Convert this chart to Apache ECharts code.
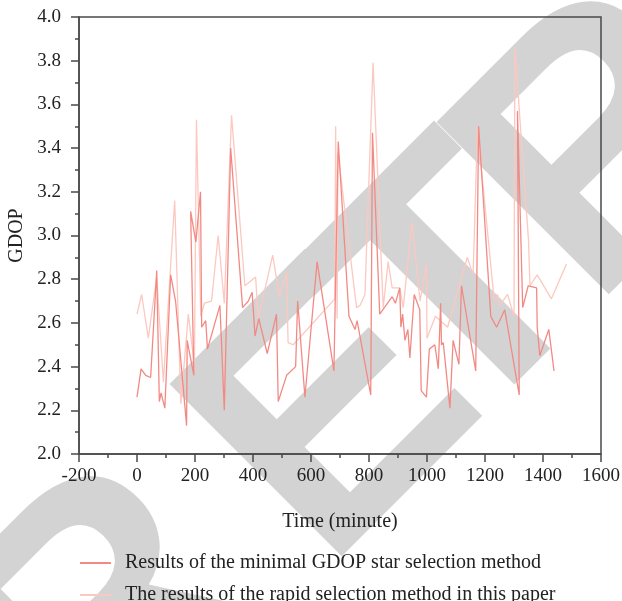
<!DOCTYPE html>
<html>
<head>
<meta charset="utf-8">
<script src="https://cdn.jsdelivr.net/npm/echarts@6/dist/echarts.min.js"></script>
<style>html,body{margin:0;padding:0;background:#fff;}#c{width:622px;height:601px;}</style>
</head>
<body>
<div id="c"></div>
<script>
// Results of the minimal GDOP star selection method: [time, GDOP]
const minimalTime = [0,14,30,47,68,77,83,96,116,133,171,173,196,185,203,219,223,237,243,286,301,323,355,364,384,397,407,420,449,481,487,516,547,554,579,621,679,694,731,752,759,806,812,837,880,891,906,910,916,924,934,941,956,975,980,998,1008,1027,1039,1047,1050,1056,1079,1090,1110,1119,1168,1178,1220,1240,1268,1318,1312,1330,1349,1378,1380,1389,1420,1438];
const minimalGDOP = [2.26,2.39,2.36,2.35,2.84,2.24,2.28,2.21,2.82,2.70,2.13,2.52,2.36,3.11,2.97,3.20,2.58,2.61,2.48,2.68,2.20,3.40,2.83,2.67,2.70,2.74,2.54,2.62,2.46,2.64,2.24,2.36,2.40,2.70,2.26,2.88,2.38,3.43,2.63,2.57,2.61,2.27,3.47,2.64,2.72,2.69,2.76,2.58,2.64,2.52,2.57,2.44,2.73,2.66,2.29,2.26,2.48,2.50,2.39,2.69,2.50,2.51,2.21,2.52,2.41,2.77,2.38,3.50,2.63,2.58,2.66,2.27,3.57,2.67,2.77,2.76,2.58,2.45,2.57,2.38];
// The results of the rapid selection method in this paper: [time, GDOP]
const rapidTime = [0,16,39,68,91,130,151,177,198,205,220,232,257,280,301,326,372,409,418,468,491,516,521,539,682,685,690,693,757,769,786,814,849,866,880,906,918,948,976,998,1000,1029,1071,1139,1159,1174,1232,1243,1251,1278,1300,1303,1350,1355,1380,1429,1481];
const rapidGDOP = [2.64,2.73,2.53,2.81,2.33,3.16,2.23,2.64,2.40,3.53,2.63,2.69,2.70,3.00,2.69,3.55,2.77,2.81,2.62,2.91,2.72,2.83,2.51,2.50,2.71,3.50,2.62,3.38,2.67,2.68,2.73,3.79,2.67,2.88,2.76,2.76,2.67,3.06,2.70,2.87,2.53,2.63,2.58,2.90,2.82,3.49,2.70,2.73,2.68,2.73,2.63,3.86,2.98,2.77,2.82,2.71,2.87];
const seriesNames = ['Results of the minimal GDOP star selection method','The results of the rapid selection method in this paper'];
const xTitle = 'Time (minute)';
const yTitle = 'GDOP';
const watermarkLetters = ['R', 'E', 'T', 'R'];

const pair = (xs, ys) => xs.map((x, i) => [x, ys[i]]);
const serif = 'Liberation Serif';
const axisCol = '#4a4a4a';
const txtCol = '#222';
const colors = ['#f28a84', '#fcc8c0'];
// watermark letter anchors (page pixels)
const wmAnchors = [[23, 717], [256, 504], [387, 374], [523, 242]];
const legendBase = {
  orient: 'horizontal', left: 75, itemWidth: 31, itemHeight: 2, icon: 'rect',
  textStyle: {fontFamily: serif, fontSize: 20, color: txtCol, padding: [0, 0, 0, 9]}
};
const chart = echarts.init(document.getElementById('c'), null, {renderer: 'canvas'});
chart.setOption({
  animation: false,
  backgroundColor: '#fff',
  grid: {left: 79, right: 21, top: 17, bottom: 147, outerBoundsMode: 'none', containLabel: false,
         show: true, borderColor: axisCol, borderWidth: 1.5},
  graphic: watermarkLetters.map((ch, i) => ({
    type: 'text', z: -10, x: wmAnchors[i][0], y: wmAnchors[i][1], rotation: Math.PI / 4,
    style: {text: ch, font: 'bold 354px "Liberation Sans"', fill: '#d3d3d3', verticalAlign: 'middle', align: 'left'}
  })),
  xAxis: {
    type: 'value', min: -200, max: 1600, interval: 200,
    name: xTitle, nameLocation: 'middle', nameGap: 58,
    nameTextStyle: {fontFamily: serif, fontSize: 20, color: txtCol},
    axisLine: {onZero: false, lineStyle: {color: axisCol, width: 1.5}},
    axisTick: {show: true, length: 8, lineStyle: {color: axisCol, width: 1.5}},
    minorTick: {show: true, splitNumber: 2, length: 4, lineStyle: {color: axisCol, width: 1.5}},
    axisLabel: {fontFamily: serif, fontSize: 19, color: txtCol, margin: 13, formatter: v => String(v)},
    splitLine: {show: false}
  },
  yAxis: {
    type: 'value', min: 2.0, max: 4.0, interval: 0.2,
    name: yTitle, nameLocation: 'middle', nameGap: 50, nameRotate: 90,
    nameTextStyle: {fontFamily: serif, fontSize: 20, color: txtCol},
    axisLine: {onZero: false, lineStyle: {color: axisCol, width: 1.5}},
    axisTick: {show: true, length: 8, lineStyle: {color: axisCol, width: 1.5}},
    minorTick: {show: true, splitNumber: 2, length: 4, lineStyle: {color: axisCol, width: 1.5}},
    axisLabel: {fontFamily: serif, fontSize: 19, color: txtCol, margin: 18, formatter: v => v.toFixed(1)},
    splitLine: {show: false}
  },
  legend: [
    Object.assign({}, legendBase, {top: 548, data: [seriesNames[0]]}),
    Object.assign({}, legendBase, {top: 580, data: [seriesNames[1]]})
  ],
  series: [
    {name: seriesNames[0], type: 'line', data: pair(minimalTime, minimalGDOP), symbol: 'none', z: 3,
     lineStyle: {color: colors[0], width: 1.3}, itemStyle: {color: colors[0]}},
    {name: seriesNames[1], type: 'line', data: pair(rapidTime, rapidGDOP), symbol: 'none', z: 2,
     lineStyle: {color: colors[1], width: 1.3}, itemStyle: {color: colors[1]}}
  ]
});
</script>
</body>
</html>
